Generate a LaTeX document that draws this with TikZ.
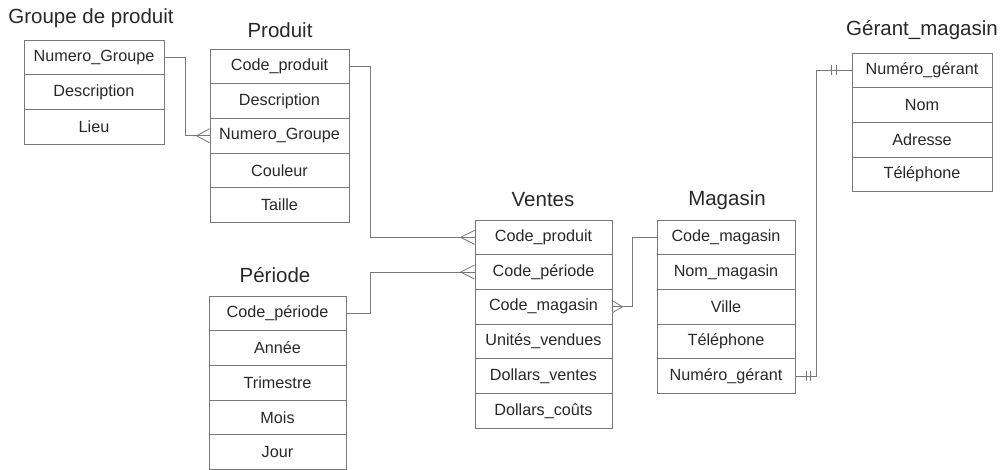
\documentclass[tikz,border=0pt]{standalone}
\usepackage{fontspec}
\setmainfont{Liberation Sans}
\usetikzlibrary{calc}
\definecolor{linec}{RGB}{120,120,120}
\definecolor{txtc}{RGB}{40,40,40}
\begin{document}
\begin{tikzpicture}[x=1pt,y=-1pt,
  row/.style={rectangle,draw=linec,line width=0.9pt,minimum width=#1,minimum height=34.7pt,inner sep=0pt,
    text=txtc,font=\fontsize{16.2}{18}\selectfont},
  ttl/.style={text=txtc,font=\fontsize{20.5}{22}\selectfont,inner sep=0pt},
  conn/.style={draw=linec,line width=0.8pt}]
\useasboundingbox (0,0) rectangle (1000,470);
% Groupe de produit
\node[ttl] (gt) at (91,18) {Groupe de produit};
\node[row=140pt] (g1) at (94,57.35) {Numero\_Groupe};
\node[row=140pt] (g2) at (94,92.05) {Description};
\node[row=140pt] (g3) at (94,126.75) {Lieu};
% Produit
\node[ttl] (pt) at (280,30) {Produit};
\node[row=139pt] (p1) at (279.5,66.35) {Code\_produit};
\node[row=139pt] (p2) at (279.5,101.05) {Description};
\node[row=139pt] (p3) at (279.5,135.75) {Numero\_Groupe};
\node[row=139pt] (p4) at (279.5,170.45) {Couleur};
\node[row=139pt] (p5) at (279.5,205.15) {Taille};
% Periode
\node[ttl] (et) at (275,275) {Période};
\node[row=137pt] (e1) at (277.5,313.35) {Code\_période};
\node[row=137pt] (e2) at (277.5,348.05) {Année};
\node[row=137pt] (e3) at (277.5,382.75) {Trimestre};
\node[row=137pt] (e4) at (277.5,417.45) {Mois};
\node[row=137pt] (e5) at (277.5,452.15) {Jour};
% Ventes
\node[ttl] (vt) at (543,200) {Ventes};
\node[row=137pt] (v1) at (543.5,237.35) {Code\_produit};
\node[row=137pt] (v2) at (543.5,272.05) {Code\_période};
\node[row=137pt] (v3) at (543.5,306.75) {Code\_magasin};
\node[row=137pt] (v4) at (543.5,341.45) {Unités\_vendues};
\node[row=137pt] (v5) at (543.5,376.15) {Dollars\_ventes};
\node[row=137pt] (v6) at (543.5,410.85) {Dollars\_coûts};
% Magasin
\node[ttl] (mt) at (727,200) {Magasin};
\node[row=138pt] (m1) at (726,237.35) {Code\_magasin};
\node[row=138pt] (m2) at (726,272.05) {Nom\_magasin};
\node[row=138pt] (m3) at (726,306.75) {Ville};
\node[row=138pt] (m4) at (726,341.45) {Téléphone};
\node[row=138pt] (m5) at (726,376.15) {Numéro\_gérant};
% Gerant
\node[ttl] (rt) at (922,30) {Gérant\_magasin};
\node[row=140pt] (r1) at (922,70.35) {Numéro\_gérant};
\node[row=140pt] (r2) at (922,105.05) {Nom};
\node[row=140pt] (r3) at (922,139.75) {Adresse};
\node[row=140pt] (r4) at (922,174.45) {Téléphone};
% connectors
\draw[conn] (g1.east) -- ++(21,0) |- (p3.west);
\draw[conn] ($(p3.west)+(-13,0)$) -- ($(p3.west)+(0,-7)$) ($(p3.west)+(-13,0)$) -- ($(p3.west)+(0,7)$);
\draw[conn] (p1.east) -- ++(21,0) |- (v1.west);
\draw[conn] ($(v1.west)+(-14,0)$) -- ($(v1.west)+(0,-7)$) ($(v1.west)+(-14,0)$) -- ($(v1.west)+(0,7)$);
\draw[conn] (e1.east) -- ++(24,0) |- (v2.west);
\draw[conn] ($(v2.west)+(-14,0)$) -- ($(v2.west)+(0,-7)$) ($(v2.west)+(-14,0)$) -- ($(v2.west)+(0,7)$);
\draw[conn] (v3.east) -- ++(20,0) |- (m1.west);
\draw[conn] ($(v3.east)+(10,0)$) -- ($(v3.east)+(0,-6)$) ($(v3.east)+(10,0)$) -- ($(v3.east)+(0,6)$);
\draw[conn] (m5.east) -- ++(21,0) |- (r1.west);
\draw[conn] ($(m5.east)+(11,-5)$) -- ($(m5.east)+(11,5)$) ($(m5.east)+(15,-5)$) -- ($(m5.east)+(15,5)$);
\draw[conn] ($(r1.west)+(-20,-5)$) -- ($(r1.west)+(-20,5)$) ($(r1.west)+(-15,-5)$) -- ($(r1.west)+(-15,5)$);
\end{tikzpicture}
\end{document}
